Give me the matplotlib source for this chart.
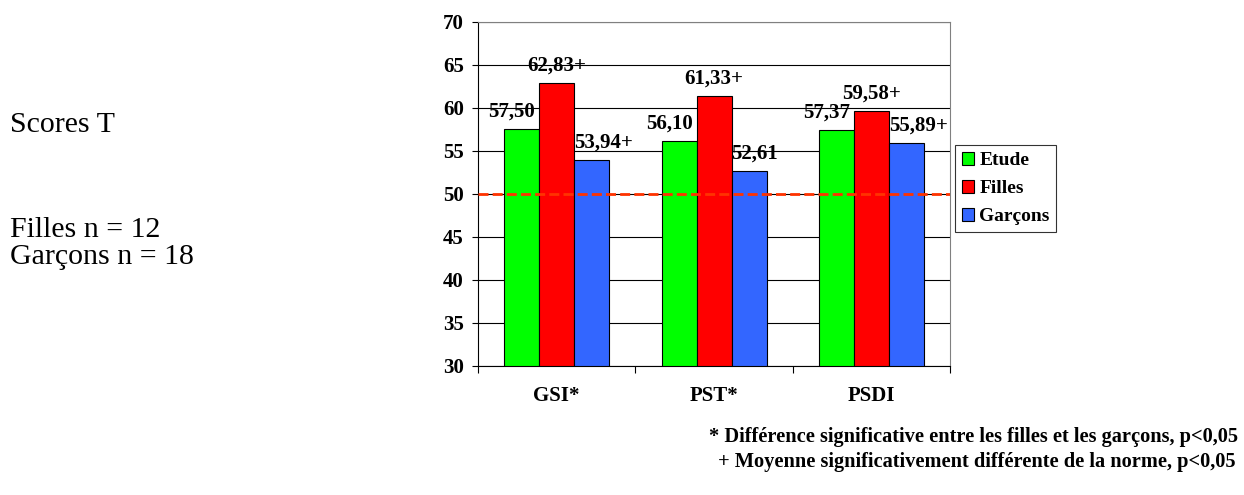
import matplotlib
matplotlib.use("Agg")
import matplotlib.pyplot as plt
import numpy as np

plt.rcParams['font.family'] = ['Liberation Serif', 'DejaVu Serif']

categories = ['GSI*', 'PST*', 'PSDI']
etude = [57.50, 56.10, 57.37]
filles = [62.83, 61.33, 59.58]
garcons = [53.94, 52.61, 55.89]
lab_etude = ['57,50', '56,10', '57,37']
lab_filles = ['62,83+', '61,33+', '59,58+']
lab_garcons = ['53,94+', '52,61', '55,89+']
series_names = ['Etude', 'Filles', 'Garçons']
colors = ['#00ff00', '#ff0000', '#3366ff']
yticks = [30, 35, 40, 45, 50, 55, 60, 65, 70]

fig = plt.figure(figsize=(12.44, 4.95), dpi=100)
ax = fig.add_axes([0.384, 0.261, 0.380, 0.695])

x = np.arange(len(categories))
w = 1 / 4.5
series = [etude, filles, garcons]
labels = [lab_etude, lab_filles, lab_garcons]
# label placement like the original: green right-aligned, red centred, blue left-aligned
aligns = [('right', w / 2, -4), ('center', 0, 0), ('left', -w / 2, 0)]
handles = []
for i, (vals, labs) in enumerate(zip(series, labels)):
    pos = x + (i - 1) * w
    b = ax.bar(pos, np.array(vals) - 30, w, bottom=30, color=colors[i],
               edgecolor='black', linewidth=0.8, zorder=3, label=series_names[i])
    handles.append(b)
    ha, dx, dpx = aligns[i]
    for p, v, t in zip(pos, vals, labs):
        ax.annotate(t, (p + dx, v), xytext=(dpx * 0.72, 5.5), textcoords='offset points',
                    ha=ha, va='bottom', fontsize=15, fontweight='bold', zorder=5)

ax.axhline(50, color='#ff3300', linestyle=(0, (3.6, 1.5)), linewidth=2, zorder=4)

ax.set_ylim(30, 70)
ax.set_xlim(-0.5, 2.5)
ax.set_yticks(yticks)
ax.set_yticklabels([str(t) for t in yticks], fontsize=15, fontweight='bold')
ax.yaxis.grid(True, color='black', linewidth=0.8, zorder=0)
ax.set_axisbelow(True)

# category ticks between groups
ax.set_xticks([-0.5, 0.5, 1.5, 2.5])
ax.set_xticklabels([])
ax.tick_params(axis='x', length=5, direction='out', width=0.8)
ax.tick_params(axis='y', length=4, direction='out', width=0.8, pad=6)
for c, xc in zip(categories, x):
    ax.text(xc, -0.058, c, transform=ax.get_xaxis_transform(), ha='center',
            va='top', fontsize=15, fontweight='bold')

for s in ['top', 'right']:
    ax.spines[s].set_color('#808080')

leg = fig.legend(handles=handles, labels=series_names, loc='upper left',
                 bbox_to_anchor=(955 / 1244, 1 - 145 / 495),
                 prop={'weight': 'bold', 'size': 14}, frameon=True,
                 fancybox=False, edgecolor='black', handlelength=0.65,
                 handleheight=0.65, handletextpad=0.25, borderpad=0.35,
                 labelspacing=0.55, borderaxespad=0)
leg.get_frame().set_linewidth(0.8)

fig.text(10 / 1244, 1 - 125 / 495, 'Scores T', fontsize=21.5, va='center', ha='left')
fig.text(10 / 1244, 1 - 230 / 495, 'Filles n = 12', fontsize=21.5, va='center', ha='left')
fig.text(10 / 1244, 1 - 257 / 495, 'Garçons n = 18', fontsize=21.5, va='center', ha='left')

fig.text(1238 / 1244, 1 - 437 / 495,
         '* Différence significative entre les filles et les garçons, p<0,05',
         fontsize=14.7, fontweight='bold', ha='right', va='center')
fig.text(1236 / 1244, 1 - 462 / 495,
         '+ Moyenne significativement différente de la norme, p<0,05',
         fontsize=14.7, fontweight='bold', ha='right', va='center')

fig.savefig('out.png', dpi=100)
